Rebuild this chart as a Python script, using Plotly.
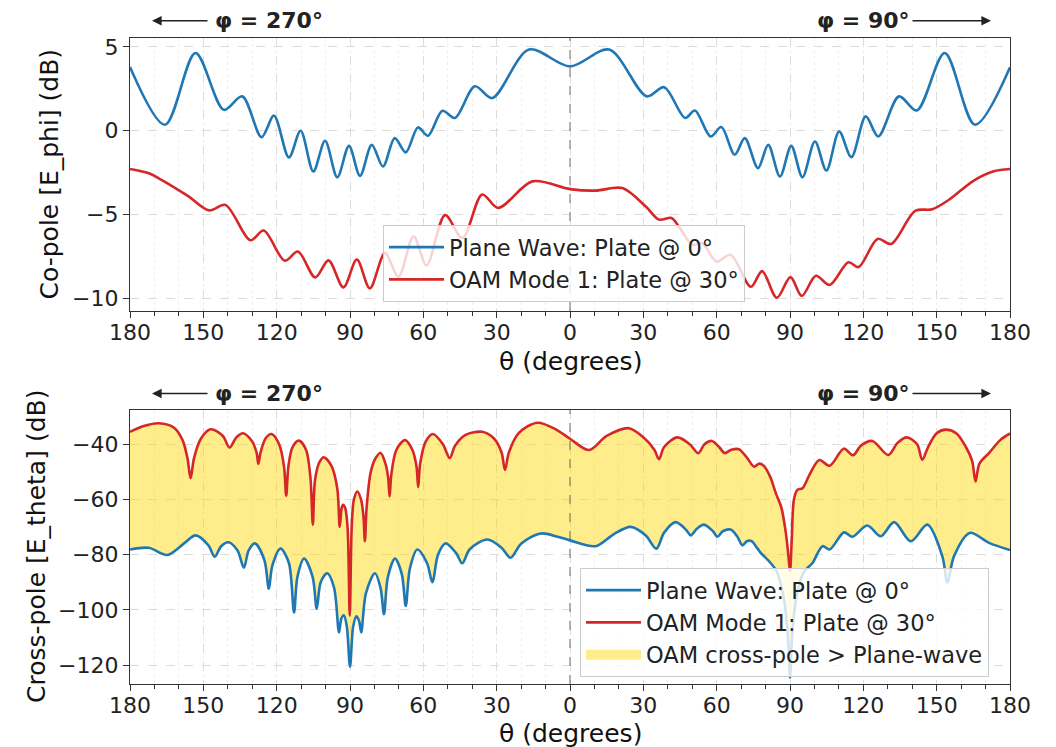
import plotly.graph_objects as go

# theta is signed: negative = phi = 270 deg half (left side), positive = phi = 90 deg half (right side)
x_tick_vals = [-180, -150, -120, -90, -60, -30, 0, 30, 60, 90, 120, 150, 180]
x_tick_text = ["180", "150", "120", "90", "60", "30", "0", "30", "60", "90", "120", "150", "180"]
co_tick_vals = [5, 0, -5, -10]
co_tick_text = ["5", "0", "\u22125", "\u221210"]
cross_tick_vals = [-40, -60, -80, -100, -120]
cross_tick_text = ["\u221240", "\u221260", "\u221280", "\u2212100", "\u2212120"]

name_pw = "Plane Wave: Plate @ 0°"
name_oam = "OAM Mode 1: Plate @ 30°"
name_fill = "OAM cross-pole > Plane-wave"

# ---- Co-pole, plane wave ----
theta_co_pw = [-180, -165.7, -153.2, -141.6, -134.1, -126.2, -121.1, -115.0, -110.2, -105.0,
               -100.2, -95.2, -90.4, -85.9, -81.1, -76.5, -71.7, -67.2, -62.2, -58.1,
               -52.2, -47.1, -38.9, -31.8, -16.8, 0, 16.0, 31.4, 38.5, 47.1,
               51.1, 57.5, 61.9, 67.4, 71.5, 76.9, 81.1, 85.9, 90.5, 95.1,
               100.2, 104.9, 110.1, 115.1, 121.0, 126.1, 134.6, 141.9, 153.3, 165.7, 180]
co_pw_db = [3.80, 0.36, 4.64, 1.25, 2.05, -0.38, 0.90, -1.59, 0.00, -2.43,
            -0.60, -2.77, -0.90, -2.69, -0.84, -2.13, -0.44, -1.29, 0.20, -0.30,
            1.19, 0.76, 2.65, 1.95, 4.84, 3.84, 4.84, 2.05, 2.60, 0.76,
            1.21, -0.34, 0.22, -1.43, -0.44, -2.23, -0.84, -2.73, -0.90, -2.77,
            -0.64, -2.37, -0.04, -1.57, 0.86, -0.34, 2.05, 1.21, 4.64, 0.36, 3.78]

# ---- Co-pole, OAM ----
theta_co_oam = [-180, -172, -167.3, -156.2, -147.6, -141.0, -130.7, -125.3, -116.7, -111.3,
                -104.2, -98.8, -92.7, -87.2, -81.9, -75.7, -70.2, -64.0, -58.7, -51.1,
                -44.0, -35.9, -29.4, -15.4, 0, 10.5, 21.4, 31.0, 36.4, 41.5,
                44.5, 50, 54, 60, 65.7, 74, 78.6, 84.6, 90.2, 94.8,
                100.6, 106.2, 113.9, 118.1, 125.8, 131.4, 141.2, 148.2, 155.2, 164.9, 173.3, 180]
co_oam_db = [-2.28, -2.55, -2.91, -3.90, -4.75, -4.42, -6.53, -5.95, -7.75, -7.20,
             -8.75, -7.73, -9.34, -7.68, -9.40, -7.30, -8.70, -6.30, -8.03, -5.03,
             -6.40, -3.80, -4.60, -3.02, -3.48, -3.57, -3.42, -4.52, -5.30, -5.20,
             -5.70, -6.80, -6.70, -7.80, -7.40, -9.30, -8.37, -9.96, -8.73, -9.85,
             -8.65, -9.20, -7.84, -8.13, -6.45, -6.75, -4.78, -4.68, -4.10, -3.00, -2.42, -2.28]

# ---- Cross-pole, plane wave ----
theta_x_pw = [-180, -172.3, -164.8, -158, -153.2, -148, -145.3, -142.8, -139.8, -136,
              -133.4, -131.5, -128.9, -125, -123.2, -121.8, -118.4, -115, -112.9, -111.5,
              -108.8, -105.3, -103.6, -102, -99.3, -96.5, -94.5, -93.5, -92.5, -91.3,
              -90.0, -88.7, -87.4, -86.3, -85.4, -83.5, -79.8, -77.5, -76.1, -74.5,
              -71.6, -68.8, -67.2, -65.5, -62.5, -58.5, -56.3, -54, -50.9, -46.5,
              -44.1, -41, -33.8, -28, -24.3, -20, -12.0, -5, 0, 10.5,
              18, 24.8, 31, 35.3, 38.5, 43.2, 47.5, 49.4, 52, 54.8,
              58.5, 60.3, 62.5, 65.7, 68.5, 70.5, 72.5, 74.3, 76.5, 78.0,
              81.4, 84.5, 87.5, 89.2, 90.0, 90.8, 92.5, 95.5, 99.2, 103.3,
              106.2, 112.1, 115.5, 121.6, 127.1, 132.6, 139.4, 146.2, 152.3, 154.4,
              157.1, 163.5, 171.4, 180]
x_pw_db = [-78.1, -77.5, -80.1, -76.0, -73.0, -76.5, -80.7, -77.0, -75.5, -78.5,
           -84.7, -78.5, -75.9, -82.0, -92.3, -84.0, -77.8, -83.0, -100.9, -88.0,
           -81.4, -88.0, -99.5, -90.0, -86.7, -92.0, -108.1, -103.0, -101.9, -106.0,
           -120.5, -106.0, -102.3, -104.0, -108.1, -94.0, -86.7, -92.0, -101.5, -88.0,
           -81.4, -87.0, -98.5, -85.0, -78.1, -83.0, -89.9, -80.0, -75.9, -79.5,
           -83.1, -78.0, -74.5, -77.5, -81.1, -76.0, -72.3, -73.5, -74.8, -76.9,
           -72.5, -69.9, -73.0, -77.8, -72.0, -68.2, -71.0, -73.0, -70.5, -69.1,
           -71.5, -73.5, -71.5, -70.9, -73.5, -76.6, -75.0, -75.1, -77.5, -79.3,
           -82.3, -86.0, -96.0, -110.0, -124.5, -110.0, -96.0, -86.5, -83.0, -76.9,
           -78.1, -71.9, -73.5, -69.4, -73.3, -68.2, -75.1, -69.1, -80.5, -90.0,
           -80.5, -72.1, -75.7, -78.3]

# ---- Cross-pole, OAM ----
theta_x_oam = [-180, -174, -168.2, -162, -158.5, -156.5, -155.2, -153.8, -151, -147.0,
               -142, -139.3, -136.5, -133.8, -130, -128.2, -127.5, -126.6, -124.5, -122.1,
               -119, -117, -116.1, -115.2, -113.5, -110.9, -108, -106.2, -105.2, -104.3,
               -102.5, -100.7, -97.5, -95.2, -94.2, -93.4, -92.8, -92.0, -91.0, -90.1,
               -89.3, -88.4, -87.0, -85.5, -84.5, -83.9, -83.2, -81.5, -79.5, -77.5,
               -75.5, -74.4, -73.8, -73.1, -71, -67.5, -64.5, -62.8, -62.1, -61.3,
               -59, -56.1, -52, -49.2, -47, -42.7, -35.9, -31, -28, -26.6,
               -25, -21, -13.4, -6, 0, 7.8, 15, 24.1, 30, 34.5,
               36.4, 38.5, 43.9, 49, 52.5, 55, 58.0, 61, 63.3, 66,
               69.1, 72.5, 75.3, 77.5, 79.4, 82, 84.2, 86.5, 88.3, 89.3,
               90.0, 90.7, 91.6, 93, 95.1, 98, 102.0, 106.2, 112.0, 115.8,
               119, 123.7, 130.2, 134, 137.8, 142, 144.1, 146.5, 150, 153.7,
               158, 161.9, 164.5, 165.9, 167.5, 171.4, 176, 180]
x_oam_db = [-35.5, -33.3, -32.4, -34.0, -38.5, -45.0, -52.3, -45.0, -38.0, -34.6,
            -37.0, -41.2, -37.5, -36.0, -39.0, -43.0, -47.1, -43.0, -37.8, -36.3,
            -40.0, -48.0, -58.6, -48.0, -41.0, -38.7, -42.0, -52.0, -69.1, -53.0,
            -46.5, -44.7, -48.0, -56.0, -69.9, -63.0, -61.9, -63.0, -70.0, -102.1,
            -70.0, -60.0, -57.1, -60.0, -66.0, -75.1, -63.0, -50.0, -45.0, -43.2,
            -47.0, -52.0, -58.9, -51.0, -42.0, -38.5, -42.0, -48.0, -55.5, -47.0,
            -39.0, -36.3, -40.0, -45.0, -40.5, -36.6, -35.5, -38.0, -43.0, -49.3,
            -43.0, -36.0, -32.2, -34.5, -38.0, -42.1, -37.0, -34.2, -37.5, -42.0,
            -45.4, -41.0, -37.5, -40.0, -43.2, -40.0, -38.8, -41.0, -43.2, -42.0,
            -41.8, -45.0, -48.1, -47.0, -47.9, -52.0, -57.7, -63.0, -72.1, -80.0,
            -86.0, -75.0, -60.1, -56.5, -55.9, -51.0, -45.7, -47.8, -41.6, -44.0,
            -40.5, -38.8, -43.9, -39.5, -37.5, -40.0, -45.6, -41.0, -36.0, -34.7,
            -36.0, -40.9, -46.0, -53.5, -47.0, -43.2, -38.5, -36.1]

FONT = "DejaVu Sans"
BLUE = "#1f77b4"
RED = "#d62728"
FILL = "rgba(255,215,0,0.45)"
# the page body has an 8 px margin, so the figure starts at (8, 8) in the window
OFF = 8
W, H = 1056 - OFF, 747 - OFF


def px(v):
    return (v - OFF) / W


def py(v):
    return 1 - (v - OFF) / H


fig = go.Figure()

# top subplot
fig.add_trace(go.Scatter(x=theta_co_pw, y=co_pw_db, mode="lines", name=name_pw,
                         line=dict(color=BLUE, width=2.6, shape="spline", smoothing=0.9),
                         xaxis="x", yaxis="y", legend="legend", legendrank=1))
fig.add_trace(go.Scatter(x=theta_co_oam, y=co_oam_db, mode="lines", name=name_oam,
                         line=dict(color=RED, width=2.6, shape="spline", smoothing=0.9),
                         xaxis="x", yaxis="y", legend="legend", legendrank=2))

# bottom subplot: shaded region between the two cross-pole curves
fig.add_trace(go.Scatter(x=theta_x_pw, y=x_pw_db, mode="lines", showlegend=False,
                         line=dict(color="rgba(0,0,0,0)", width=0, shape="spline", smoothing=0.9),
                         xaxis="x2", yaxis="y2", hoverinfo="skip"))
fig.add_trace(go.Scatter(x=theta_x_oam, y=x_oam_db, mode="lines", showlegend=False,
                         fill="tonexty", fillcolor=FILL,
                         line=dict(color="rgba(0,0,0,0)", width=0, shape="spline", smoothing=0.9),
                         xaxis="x2", yaxis="y2", hoverinfo="skip"))
fig.add_trace(go.Scatter(x=theta_x_pw, y=x_pw_db, mode="lines", name=name_pw,
                         line=dict(color=BLUE, width=2.6, shape="spline", smoothing=0.9),
                         xaxis="x2", yaxis="y2", legend="legend2", legendrank=1))
fig.add_trace(go.Scatter(x=theta_x_oam, y=x_oam_db, mode="lines", name=name_oam,
                         line=dict(color=RED, width=2.6, shape="spline", smoothing=0.9),
                         xaxis="x2", yaxis="y2", legend="legend2", legendrank=2))
# legend swatch for the shaded region
fig.add_trace(go.Scatter(x=[None], y=[None], mode="lines", name=name_fill,
                         line=dict(color=FILL, width=16),
                         xaxis="x2", yaxis="y2", legend="legend2", legendrank=3))

axis_common = dict(
    showline=True, mirror=True, linecolor="#333333", linewidth=1.3,
    ticks="outside", ticklen=6, tickwidth=1.3, tickcolor="#333333",
    tickfont=dict(family=FONT, size=22, color="#222222"),
    showgrid=True, gridcolor="#dcdcdc", griddash="dash", gridwidth=1,
    zeroline=False, automargin=False,
)
xaxis_common = dict(
    axis_common,
    range=[-180, 180], tickmode="array", tickvals=x_tick_vals, ticktext=x_tick_text,
    ticklabelstandoff=-5,
    minor=dict(tickmode="linear", tick0=0, dtick=10, ticks="outside", ticklen=3.5,
               tickwidth=1, tickcolor="#333333", showgrid=True, gridcolor="#efefef",
               griddash="dot", gridwidth=1),
)

fig.update_layout(
    width=W, height=H,
    margin=dict(l=0, r=0, t=0, b=0, autoexpand=False),
    paper_bgcolor="white", plot_bgcolor="white",
    font=dict(family=FONT, color="#222222"),
    xaxis=dict(xaxis_common, domain=[px(130), px(1010)], anchor="y"),
    yaxis=dict(axis_common, domain=[py(311), py(37.7)], anchor="x",
               range=[-10.75, 5.55], tickmode="array", tickvals=co_tick_vals, ticktext=co_tick_text),
    xaxis2=dict(xaxis_common, domain=[px(130), px(1010)], anchor="y2"),
    yaxis2=dict(axis_common, domain=[py(684), py(410)], anchor="x2",
                range=[-126.8, -27.6], tickmode="array", tickvals=cross_tick_vals, ticktext=cross_tick_text),
    legend=dict(x=px(383), y=py(225), xanchor="left", yanchor="top", traceorder="normal",
                bgcolor="rgba(255,255,255,0.8)", bordercolor="#cccccc", borderwidth=1,
                font=dict(family=FONT, size=22.5, color="#222222"), itemwidth=55),
    legend2=dict(x=px(580), y=py(568), xanchor="left", yanchor="top", traceorder="normal",
                 bgcolor="rgba(255,255,255,0.8)", bordercolor="#cccccc", borderwidth=1,
                 font=dict(family=FONT, size=22.5, color="#222222"), itemwidth=55),
    showlegend=True,
)

# dashed vertical line at theta = 0
for xr, yr in (("x", "y domain"), ("x2", "y2 domain")):
    fig.add_shape(type="line", xref=xr, yref=yr, x0=0, x1=0, y0=0, y1=1,
                  line=dict(color="rgba(90,90,90,0.75)", width=1.2, dash="dash"), layer="above")

annots = []
# axis titles
annots.append(dict(text="Co-pole [E_phi] (dB)", x=px(49), y=py(174.5), textangle=-90,
                   font=dict(family=FONT, size=25, color="#111111")))
annots.append(dict(text="Cross-pole [E_theta] (dB)", x=px(36), y=py(547), textangle=-90,
                   font=dict(family=FONT, size=25, color="#111111")))
annots.append(dict(text="θ (degrees)", x=px(570), y=py(361),
                   font=dict(family=FONT, size=25, color="#111111")))
annots.append(dict(text="θ (degrees)", x=px(570), y=py(733),
                   font=dict(family=FONT, size=25, color="#111111")))

# phi labels and arrows
for yv in (20.7, 393.5):
    annots.append(dict(text="<b>φ = 270°</b>", x=px(269), y=py(yv),
                       font=dict(family=FONT, size=22, color="#222222")))
    annots.append(dict(text="<b>φ = 90°</b>", x=px(863), y=py(yv),
                       font=dict(family=FONT, size=22, color="#222222")))
    annots.append(dict(text="", x=px(152), y=py(yv), ax=57, ay=0,
                       showarrow=True, arrowhead=2, arrowsize=1.2, arrowwidth=1.6,
                       arrowcolor="#222222"))
    annots.append(dict(text="", x=px(991), y=py(yv), ax=-80, ay=0,
                       showarrow=True, arrowhead=2, arrowsize=1.2, arrowwidth=1.6,
                       arrowcolor="#222222"))

for a in annots:
    a.setdefault("xref", "paper")
    a.setdefault("yref", "paper")
    a.setdefault("showarrow", False)
    a.setdefault("xanchor", "center")
    a.setdefault("yanchor", "middle")
    fig.add_annotation(**a)

fig.write_html("out.html")
